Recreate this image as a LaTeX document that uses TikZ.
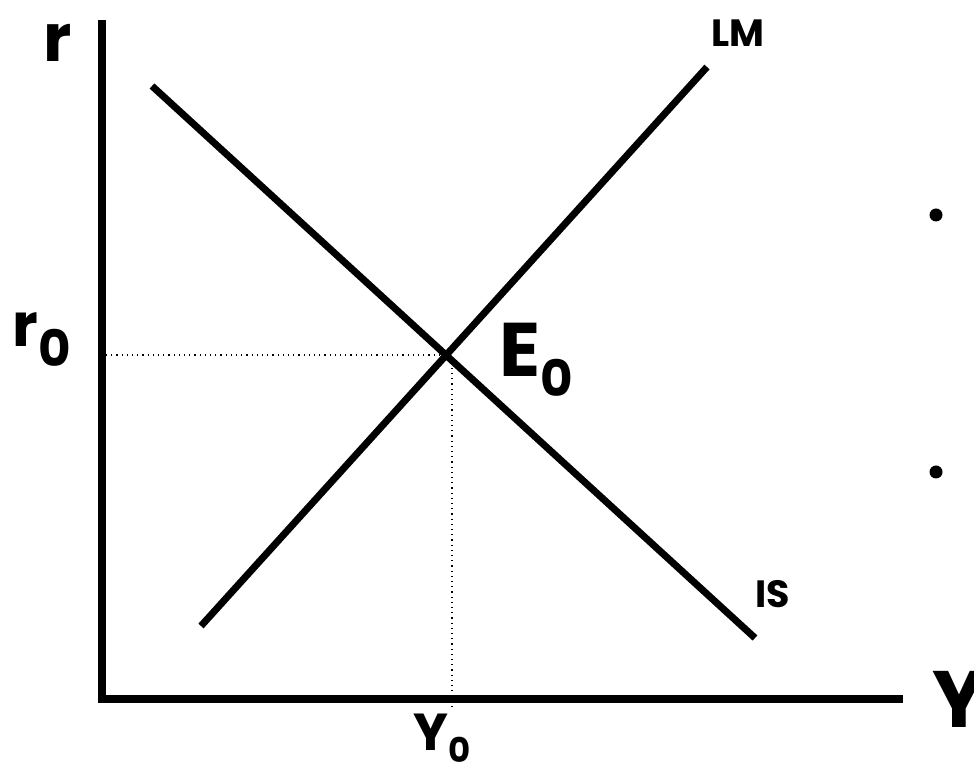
\documentclass[tikz,border=0pt]{standalone}
\usepackage{fontspec}
\setmainfont{Poppins}
\usepackage{tikz}
\usetikzlibrary{positioning, calc}

\newcommand{\lowsub}[2]{\raisebox{-#1}{#2}}

\begin{document}
\begin{tikzpicture}[
    x=0.5pt, y=-0.5pt,
    axis/.style={line width=4pt, line join=miter},
    curve/.style={line width=3.5pt},
    guide/.style={line width=0.6pt, dotted},
    lbl/.style={inner sep=0pt, anchor=base west, font=\bfseries},
    dot/.style={circle, fill=black, inner sep=0pt, minimum size=6.5pt}
  ]
  \useasboundingbox (0,0) rectangle (974,763);

  % axes
  \coordinate (top) at (102,20);
  \coordinate (right) at (903,699);
  \draw[axis] (top) |- (right);

  % curves
  \coordinate (lm1) at (201,626);
  \coordinate (lm2) at (707,67);
  \coordinate (is1) at (152,86);
  \coordinate (is2) at (755,638);
  \draw[curve] (lm1) -- (lm2);
  \draw[curve] (is1) -- (is2);

  % equilibrium guides
  \coordinate (eq) at (452,355);
  \coordinate (raxis) at (106,355);
  \coordinate (yaxis) at (452,706);
  \draw[guide] (raxis) -- (eq) -- (yaxis);

  % labels
  \node (rlab) [lbl, font=\bfseries\fontsize{33}{33}\selectfont] at (43,62) {r};
  \node (ylab) [lbl, font=\bfseries\fontsize{40}{40}\selectfont] at (932,727) {Y};
  \node (lmlab) [lbl, font=\bfseries\fontsize{19}{19}\selectfont] at (711,47) {LM};
  \node (islab) [lbl, font=\bfseries\fontsize{19}{19}\selectfont] at (755,608) {IS};
  \node (r0lab) [lbl, font=\bfseries\fontsize{30}{30}\selectfont] at (12,347)
    {r\lowsub{10pt}{\fontsize{25}{25}\selectfont 0}};
  \node (e0lab) [lbl, font=\bfseries\fontsize{38}{38}\selectfont] at (499,377)
    {E\lowsub{10pt}{\fontsize{25}{25}\selectfont 0}};
  \node (y0lab) [lbl, font=\bfseries\fontsize{26}{26}\selectfont] at (413,750)
    {Y\lowsub{6pt}{\fontsize{17}{17}\selectfont 0}};

  % bullets
  \node (bulletA) [dot] at (936,215) {};
  \node (bulletB) [dot] at (936,472) {};
\end{tikzpicture}
\end{document}
